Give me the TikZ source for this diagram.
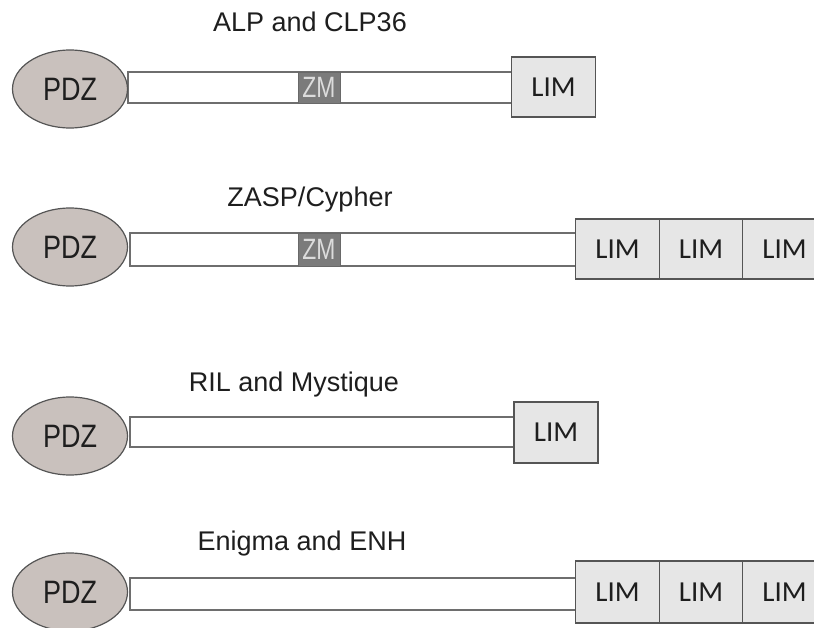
\documentclass[tikz,border=0pt]{standalone}
\usepackage{fontspec}
\setmainfont{Liberation Sans}
\newfontfamily\limfont{Carlito}
\usetikzlibrary{shapes.geometric}
\definecolor{pdzfill}{HTML}{C9C1BD}
\definecolor{edgecol}{HTML}{555555}
\definecolor{barline}{HTML}{6E6E6E}
\definecolor{zmfill}{HTML}{7B7B7B}
\definecolor{zmtext}{HTML}{DCDCDC}
\definecolor{limfill}{HTML}{E6E6E6}
\definecolor{txt}{HTML}{1E1E1E}
\begin{document}
\begin{tikzpicture}[x=1pt,y=-1pt,
  pdz/.style={ellipse, draw=edgecol, line width=1.2pt, fill=pdzfill, minimum width=115pt, minimum height=78pt, inner sep=0pt, text=txt, font=\fontsize{27}{30}\selectfont},
  bar/.style={draw=barline, line width=1.2pt, fill=white, inner sep=0pt, minimum height=#1},
  zm/.style={fill=zmfill, draw=zmfill!85!black, line width=0.8pt, text=zmtext, inner sep=0pt, minimum width=42pt, minimum height=#1, font=\fontsize{26}{28}\selectfont},
  lim/.style={draw=edgecol, line width=1.2pt, fill=limfill, minimum width=83.5pt, minimum height=#1, inner sep=0pt, text=txt, font=\limfont\fontsize{29}{32}\selectfont},
  title/.style={anchor=base, inner sep=0pt, text=txt, font=\fontsize{27}{30}\selectfont}]
\clip (0,0) rectangle (814,628);
\fill[white] (0,0) rectangle (814,628);
\newcommand{\pdztext}{\scalebox{1}[1.2]{PDZ}}
\newcommand{\zmtext}{\scalebox{0.88}[1.13]{ZM}}

% Row 1
\node[title] (t1) at (310,32) {ALP and CLP36};
\node[bar=31pt, minimum width=384pt] (b1) at (320,87.5) {};
\node[zm=31pt] (z1) at (319,87.5) {\zmtext};
\node[lim=60pt] (l1) at (553.5,87) {LIM};
\node[pdz] (p1) at (70,89) {\pdztext};

% Row 2
\node[title] (t2) at (310,207) {ZASP/Cypher};
\node[bar=33pt, minimum width=446pt] (b2) at (353,249.5) {};
\node[zm=33pt] (z2) at (319,249.5) {\zmtext};
\node[lim=60pt] (l2a) at (617.5,249) {LIM};
\node[lim=60pt] (l2b) at (701,249) {LIM};
\node[lim=60pt] (l2c) at (784.5,249) {LIM};
\node[pdz] (p2) at (70,247) {\pdztext};

% Row 3
\node[title] (t3) at (294,391) {RIL and Mystique};
\node[bar=30pt, minimum width=384pt] (b3) at (322,432) {};
\node[lim=61pt, minimum width=84pt] (l3) at (556,432.5) {LIM};
\node[pdz] (p3) at (70,436) {\pdztext};

% Row 4
\node[title] (t4) at (302,550) {Enigma and ENH};
\node[bar=32pt, minimum width=446pt] (b4) at (353,594) {};
\node[lim=62pt] (l4a) at (617.5,592) {LIM};
\node[lim=62pt] (l4b) at (701,592) {LIM};
\node[lim=62pt] (l4c) at (784.5,592) {LIM};
\node[pdz] (p4) at (70,592) {\pdztext};
\end{tikzpicture}
\end{document}
